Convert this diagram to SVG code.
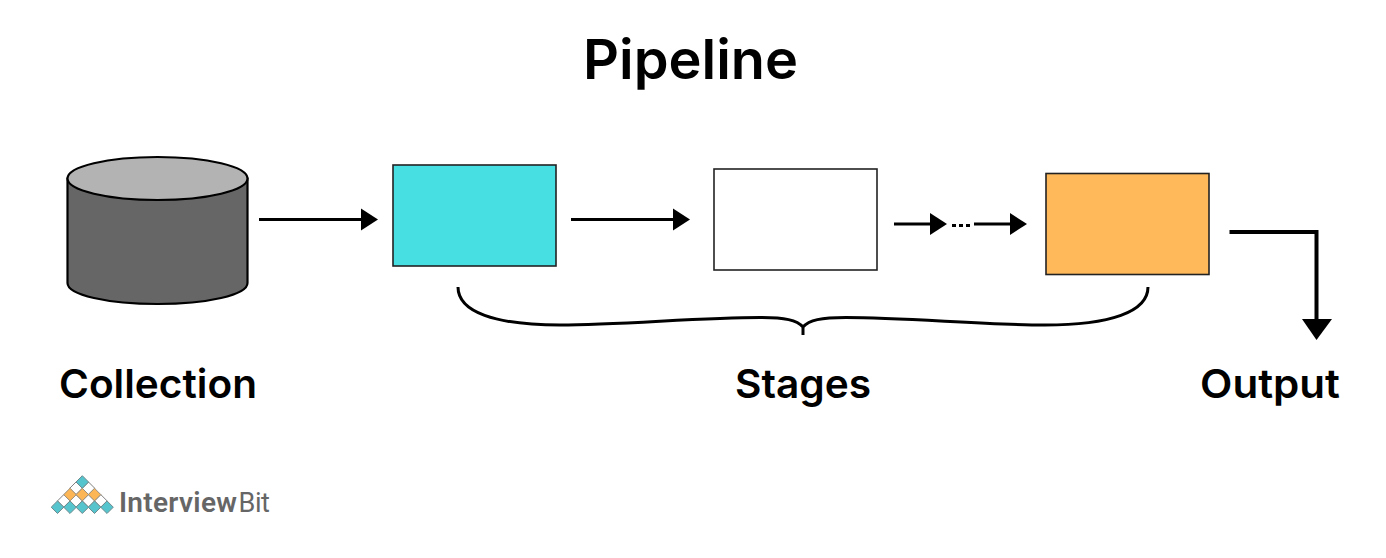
<svg xmlns="http://www.w3.org/2000/svg" width="1386" height="558" viewBox="0 0 1386 558">
<style>
.lbl{font-family:"Inter","Noto Sans",sans-serif;font-weight:600;fill:#000;text-anchor:middle}
.box{stroke:#222;stroke-width:1.6}
.ln{fill:none;stroke:#000;stroke-width:3}
.t{fill:#55c4cc;stroke:#6f8a8e;stroke-width:1}.o{fill:#fdb655;stroke:#9a9080;stroke-width:1}.w{fill:#fff;stroke:#808080;stroke-width:1}
.logo{font-family:"Roboto","Noto Sans",sans-serif;font-size:28px;fill:#666}
</style>
<rect width="1386" height="558" fill="#fff"/>
<text class="lbl" x="690.500" y="79" font-size="55" textLength="215" lengthAdjust="spacingAndGlyphs">Pipeline</text>
<g id="collection">
<path d="M67.5 178.500V283C67.500 295 108 304 157.500 304S247.500 295 247.500 283V178.500Z" fill="#666" stroke="#000" stroke-width="2.200"/>
<ellipse cx="157.500" cy="178.500" rx="90" ry="21.500" fill="#b3b3b3" stroke="#000" stroke-width="2.200"/>
<text class="lbl" x="158" y="398" font-size="40" textLength="198" lengthAdjust="spacingAndGlyphs">Collection</text>
</g>
<g id="stage1"><rect class="box" x="393" y="165" width="163" height="101" fill="#48dfe3"/></g>
<g id="stage2"><rect class="box" x="714" y="169" width="163" height="101" fill="#fff"/></g>
<g id="stage3"><rect class="box" x="1046" y="173.500" width="163" height="101" fill="#ffb95a"/></g>
<g id="connectors">
<path class="ln" d="M259 219.500H364"/><path d="M361 208.500L378 219.500L361 230.500Z"/>
<path class="ln" d="M571 219.500H676"/><path d="M673 208.500L690 219.500L673 230.500Z"/>
<path class="ln" d="M894 224H933"/><path d="M930 213L947 224L930 235Z"/>
<path d="M952 224h4v3h-4zM959 224h4v3h-4zM966 224h4v3h-4z"/>
<path class="ln" d="M974 224H1013"/><path d="M1010 213L1027 224L1010 235Z"/>
<path fill="none" stroke="#000" stroke-width="4" d="M1229.500 232H1316.500V322"/><path d="M1302 319H1332L1316.500 340Z"/>
<path class="ln" d="M458 287C458 312 495 325 560 325C620 325 700 317.500 760 317.500C785 317.500 797 320 803 327C809 320 821 317.500 846 317.500C905 317.500 985 325 1045 325C1110 325 1148 312 1148 287M803 326V335"/>
</g>
<g id="stages"><text class="lbl" x="803" y="398" font-size="40" textLength="136" lengthAdjust="spacingAndGlyphs">Stages</text></g>
<g id="output"><text class="lbl" x="1270" y="398" font-size="40" textLength="140" lengthAdjust="spacingAndGlyphs">Output</text></g>
<g id="logo">
<defs><path id="d" d="M0-6.300L6.300 0L0 6.300L-6.300 0Z"/></defs>
<use href="#d" class="w" x="76" y="488.300"/><use href="#d" class="w" x="88.500" y="488.300"/>
<use href="#d" class="w" x="63.800" y="500.900"/><use href="#d" class="w" x="76" y="500.900"/><use href="#d" class="w" x="88.500" y="500.900"/><use href="#d" class="w" x="100.800" y="500.900"/>
<use href="#d" class="t" x="82.300" y="482"/>
<use href="#d" class="o" x="70" y="494.600"/><use href="#d" class="o" x="82.300" y="494.600"/><use href="#d" class="o" x="94.500" y="494.600"/>
<use href="#d" class="t" x="57.500" y="507.200"/><use href="#d" class="t" x="70" y="507.200"/><use href="#d" class="t" x="82.300" y="507.200"/><use href="#d" class="t" x="94.500" y="507.200"/><use href="#d" class="t" x="107" y="507.200"/>
<text class="logo" x="119" y="512" font-weight="600" letter-spacing=".3">Interview</text>
<text class="logo" x="238.500" y="512" font-weight="400" style="font-size:27px" letter-spacing="-.4">Bit</text>
</g>
</svg>
